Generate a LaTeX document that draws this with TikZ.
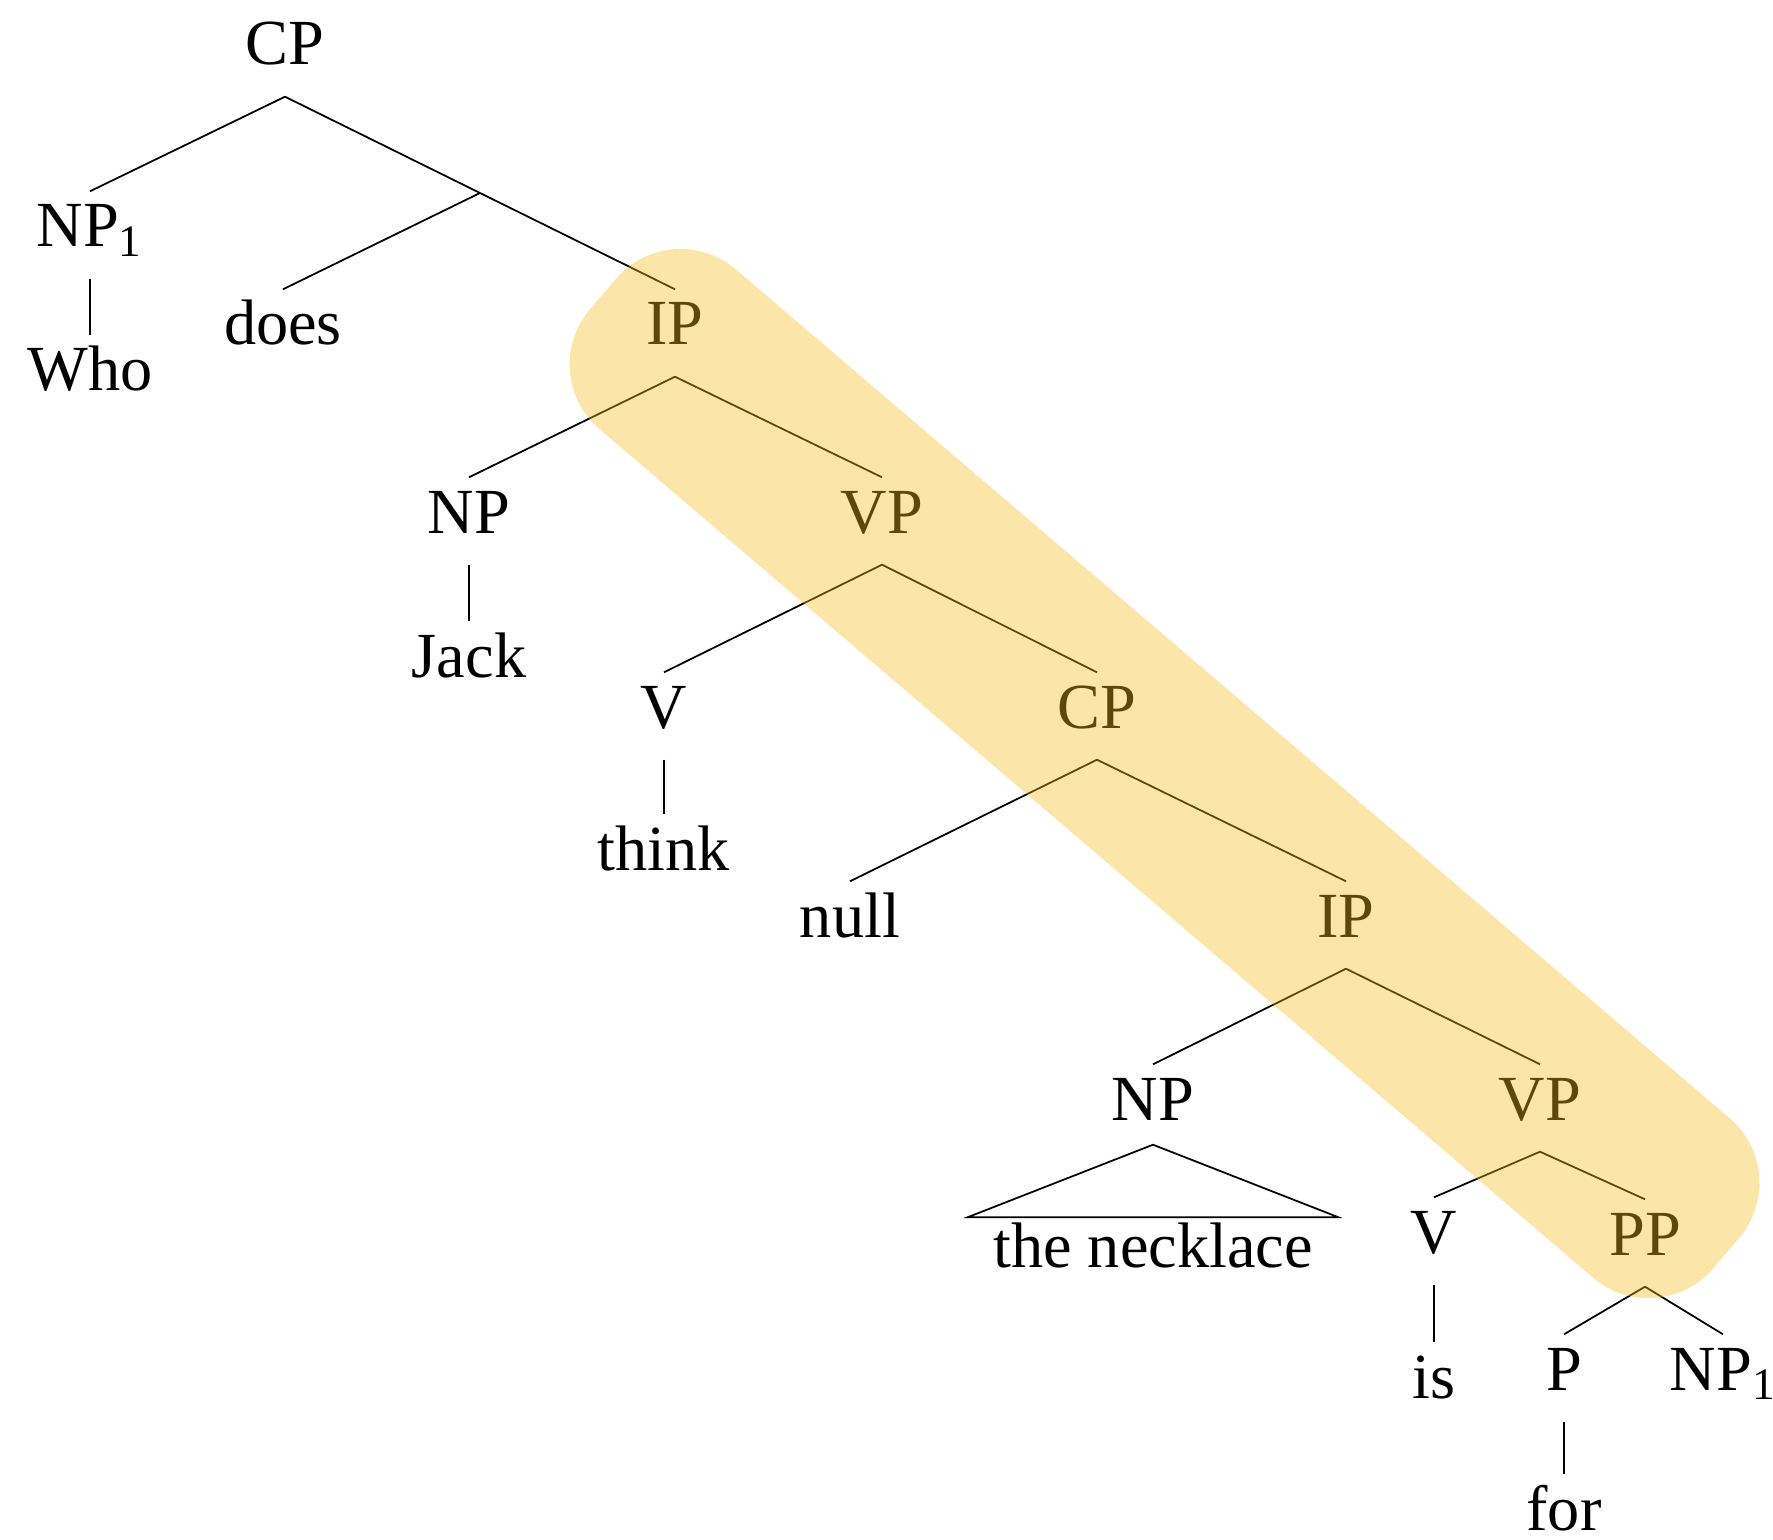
\documentclass[tikz,border=0pt]{standalone}
\usepackage{fontspec}
\setmainfont{Liberation Serif}
\usetikzlibrary{calc}
\definecolor{ambar}{RGB}{248,187,27}
\begin{document}
\begin{tikzpicture}[
		cat/.style={anchor=base, inner xsep=0pt, inner ysep=0.05cm, text height=0.5cm, text depth=0.26cm, font=\fontsize{18.3}{22}\selectfont},
		rama/.style={line width=0.5pt},
		resalte/.style={fill=ambar, opacity=0.38}]
			\useasboundingbox (0,0) rectangle (17.73,-15.39);
			% Oración principal
			\node[cat] (cp0) at (2.85,-0.65) {CP};
			\node[cat] (np1) at (0.90,-2.47) {NP\textsubscript{1}};
			\node[cat] (who) at (0.90,-3.91) {Who};
			\node[cat] (does) at (2.83,-3.45) {does};
			\node[cat] (ip1) at (6.75,-3.45) {IP};
			\node[cat] (np2) at (4.69,-5.33) {NP};
			\node[cat] (jack) at (4.69,-6.77) {Jack};
			\node[cat] (vp1) at (8.82,-5.33) {VP};
			\node[cat] (v1) at (6.64,-7.28) {V};
			\node[cat] (think) at (6.64,-8.70) {think};
			% Subordinada
			\node[cat] (cp1) at (10.97,-7.28) {CP};
			\node[cat] (null) at (8.50,-9.37) {null};
			\node[cat] (ip2) at (13.46,-9.37) {IP};
			\node[cat, text depth=0.19cm] (np3) at (11.53,-11.20) {NP};
			\node[cat, inner xsep=0.25cm, text height=0.44cm] (neck) at (11.53,-12.67) {the necklace};
			\node[cat] (vp2) at (15.40,-11.20) {VP};
			\node[cat] (v2) at (14.34,-12.53) {V};
			\node[cat] (is) at (14.34,-13.98) {is};
			\node[cat] (pp) at (16.45,-12.55) {PP};
			\node[cat] (p) at (15.64,-13.90) {P};
			\node[cat] (np4) at (17.23,-13.90) {NP\textsubscript{1}};
			\node[cat] (for) at (15.64,-15.30) {for};
			% Ramas
			\coordinate (j) at ($(cp0.south)!0.5!(ip1.north)$);
			\draw[rama] (cp0.south) -- (np1.north);
			\draw[rama] (cp0.south) -- (ip1.north);
			\draw[rama] (j) -- (does.north);
			\draw[rama] (np1.south) -- (who.north);
			\draw[rama] (ip1.south) -- (np2.north);
			\draw[rama] (ip1.south) -- (vp1.north);
			\draw[rama] (np2.south) -- (jack.north);
			\draw[rama] (vp1.south) -- (v1.north);
			\draw[rama] (vp1.south) -- (cp1.north);
			\draw[rama] (v1.south) -- (think.north);
			\draw[rama] (cp1.south) -- (null.north);
			\draw[rama] (cp1.south) -- (ip2.north);
			\draw[rama] (ip2.south) -- (np3.north);
			\draw[rama] (ip2.south) -- (vp2.north);
			\draw[rama] (np3.south) -- (neck.north west) -- (neck.north east) -- cycle;
			\draw[rama] (vp2.south) -- (v2.north);
			\draw[rama] (vp2.south) -- (pp.north);
			\draw[rama] (v2.south) -- (is.north);
			\draw[rama] (pp.south) -- (p.north);
			\draw[rama] (pp.south) -- (np4.north);
			\draw[rama] (p.south) -- (for.north);
			% Camino resaltado
			\begin{scope}[shift={(6.03,-2.94)}, rotate=-40.5]
				\fill[resalte, rounded corners=0.85cm] (0,-1.05) rectangle (14.77,1.05);
			\end{scope}
		\end{tikzpicture}
\end{document}
